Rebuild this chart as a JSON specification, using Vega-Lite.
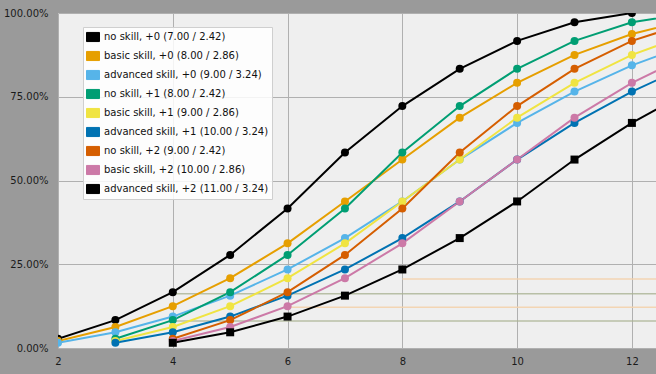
{
  "$schema": "https://vega.github.io/schema/vega-lite/v6.json",
  "width": 598,
  "height": 335,
  "autosize": {"type": "none"},
  "padding": {"left": 58, "top": 13, "right": 0, "bottom": 26},
  "background": "#9a9a9a",
  "config": {
    "view": {"fill": "#efefef", "stroke": null},
    "font": "DejaVu Sans",
    "axis": {
      "grid": true,
      "gridColor": "#b0b0b0",
      "gridWidth": 1,
      "domain": false,
      "ticks": false,
      "labelFlush": false,
      "labelOverlap": false,
      "labelFont": "DejaVu Sans",
      "labelFontSize": 10,
      "labelColor": "#1a1a1a",
      "title": null
    }
  },
  "datasets": {
    "ghostGray": [
      {"x1": 4, "x2": 12.42, "p": 0.162},
      {"x1": 4, "x2": 12.42, "p": 0.0806}
    ],
    "ghostOrange": [
      {"x1": 8, "x2": 12.42, "p": 0.206},
      {"x1": 6, "x2": 12.42, "p": 0.1215}
    ],
    "cdf": [
      {"series": "no skill, +0 (7.00 / 2.42)", "x": 2, "p": 0.0278},
      {"series": "no skill, +0 (7.00 / 2.42)", "x": 3, "p": 0.0833},
      {"series": "no skill, +0 (7.00 / 2.42)", "x": 4, "p": 0.1667},
      {"series": "no skill, +0 (7.00 / 2.42)", "x": 5, "p": 0.2778},
      {"series": "no skill, +0 (7.00 / 2.42)", "x": 6, "p": 0.4167},
      {"series": "no skill, +0 (7.00 / 2.42)", "x": 7, "p": 0.5833},
      {"series": "no skill, +0 (7.00 / 2.42)", "x": 8, "p": 0.7222},
      {"series": "no skill, +0 (7.00 / 2.42)", "x": 9, "p": 0.8333},
      {"series": "no skill, +0 (7.00 / 2.42)", "x": 10, "p": 0.9167},
      {"series": "no skill, +0 (7.00 / 2.42)", "x": 11, "p": 0.9722},
      {"series": "no skill, +0 (7.00 / 2.42)", "x": 12, "p": 1.0},

      {"series": "basic skill, +0 (8.00 / 2.86)", "x": 2, "p": 0.0208},
      {"series": "basic skill, +0 (8.00 / 2.86)", "x": 3, "p": 0.0625},
      {"series": "basic skill, +0 (8.00 / 2.86)", "x": 4, "p": 0.125},
      {"series": "basic skill, +0 (8.00 / 2.86)", "x": 5, "p": 0.2083},
      {"series": "basic skill, +0 (8.00 / 2.86)", "x": 6, "p": 0.3125},
      {"series": "basic skill, +0 (8.00 / 2.86)", "x": 7, "p": 0.4375},
      {"series": "basic skill, +0 (8.00 / 2.86)", "x": 8, "p": 0.5625},
      {"series": "basic skill, +0 (8.00 / 2.86)", "x": 9, "p": 0.6875},
      {"series": "basic skill, +0 (8.00 / 2.86)", "x": 10, "p": 0.7917},
      {"series": "basic skill, +0 (8.00 / 2.86)", "x": 11, "p": 0.875},
      {"series": "basic skill, +0 (8.00 / 2.86)", "x": 12, "p": 0.9375},
      {"series": "basic skill, +0 (8.00 / 2.86)", "x": 13, "p": 0.9792},

      {"series": "advanced skill, +0 (9.00 / 3.24)", "x": 2, "p": 0.0156},
      {"series": "advanced skill, +0 (9.00 / 3.24)", "x": 3, "p": 0.0469},
      {"series": "advanced skill, +0 (9.00 / 3.24)", "x": 4, "p": 0.0938},
      {"series": "advanced skill, +0 (9.00 / 3.24)", "x": 5, "p": 0.1563},
      {"series": "advanced skill, +0 (9.00 / 3.24)", "x": 6, "p": 0.2344},
      {"series": "advanced skill, +0 (9.00 / 3.24)", "x": 7, "p": 0.3281},
      {"series": "advanced skill, +0 (9.00 / 3.24)", "x": 8, "p": 0.4375},
      {"series": "advanced skill, +0 (9.00 / 3.24)", "x": 9, "p": 0.5625},
      {"series": "advanced skill, +0 (9.00 / 3.24)", "x": 10, "p": 0.6719},
      {"series": "advanced skill, +0 (9.00 / 3.24)", "x": 11, "p": 0.7656},
      {"series": "advanced skill, +0 (9.00 / 3.24)", "x": 12, "p": 0.8438},
      {"series": "advanced skill, +0 (9.00 / 3.24)", "x": 13, "p": 0.9063},

      {"series": "no skill, +1 (8.00 / 2.42)", "x": 3, "p": 0.0278},
      {"series": "no skill, +1 (8.00 / 2.42)", "x": 4, "p": 0.0833},
      {"series": "no skill, +1 (8.00 / 2.42)", "x": 5, "p": 0.1667},
      {"series": "no skill, +1 (8.00 / 2.42)", "x": 6, "p": 0.2778},
      {"series": "no skill, +1 (8.00 / 2.42)", "x": 7, "p": 0.4167},
      {"series": "no skill, +1 (8.00 / 2.42)", "x": 8, "p": 0.5833},
      {"series": "no skill, +1 (8.00 / 2.42)", "x": 9, "p": 0.7222},
      {"series": "no skill, +1 (8.00 / 2.42)", "x": 10, "p": 0.8333},
      {"series": "no skill, +1 (8.00 / 2.42)", "x": 11, "p": 0.9167},
      {"series": "no skill, +1 (8.00 / 2.42)", "x": 12, "p": 0.9722},
      {"series": "no skill, +1 (8.00 / 2.42)", "x": 13, "p": 1.0},

      {"series": "basic skill, +1 (9.00 / 2.86)", "x": 3, "p": 0.0208},
      {"series": "basic skill, +1 (9.00 / 2.86)", "x": 4, "p": 0.0625},
      {"series": "basic skill, +1 (9.00 / 2.86)", "x": 5, "p": 0.125},
      {"series": "basic skill, +1 (9.00 / 2.86)", "x": 6, "p": 0.2083},
      {"series": "basic skill, +1 (9.00 / 2.86)", "x": 7, "p": 0.3125},
      {"series": "basic skill, +1 (9.00 / 2.86)", "x": 8, "p": 0.4375},
      {"series": "basic skill, +1 (9.00 / 2.86)", "x": 9, "p": 0.5625},
      {"series": "basic skill, +1 (9.00 / 2.86)", "x": 10, "p": 0.6875},
      {"series": "basic skill, +1 (9.00 / 2.86)", "x": 11, "p": 0.7917},
      {"series": "basic skill, +1 (9.00 / 2.86)", "x": 12, "p": 0.875},
      {"series": "basic skill, +1 (9.00 / 2.86)", "x": 13, "p": 0.9375},

      {"series": "advanced skill, +1 (10.00 / 3.24)", "x": 3, "p": 0.0156},
      {"series": "advanced skill, +1 (10.00 / 3.24)", "x": 4, "p": 0.0469},
      {"series": "advanced skill, +1 (10.00 / 3.24)", "x": 5, "p": 0.0938},
      {"series": "advanced skill, +1 (10.00 / 3.24)", "x": 6, "p": 0.1563},
      {"series": "advanced skill, +1 (10.00 / 3.24)", "x": 7, "p": 0.2344},
      {"series": "advanced skill, +1 (10.00 / 3.24)", "x": 8, "p": 0.3281},
      {"series": "advanced skill, +1 (10.00 / 3.24)", "x": 9, "p": 0.4375},
      {"series": "advanced skill, +1 (10.00 / 3.24)", "x": 10, "p": 0.5625},
      {"series": "advanced skill, +1 (10.00 / 3.24)", "x": 11, "p": 0.6719},
      {"series": "advanced skill, +1 (10.00 / 3.24)", "x": 12, "p": 0.7656},
      {"series": "advanced skill, +1 (10.00 / 3.24)", "x": 13, "p": 0.8438},

      {"series": "no skill, +2 (9.00 / 2.42)", "x": 4, "p": 0.0278},
      {"series": "no skill, +2 (9.00 / 2.42)", "x": 5, "p": 0.0833},
      {"series": "no skill, +2 (9.00 / 2.42)", "x": 6, "p": 0.1667},
      {"series": "no skill, +2 (9.00 / 2.42)", "x": 7, "p": 0.2778},
      {"series": "no skill, +2 (9.00 / 2.42)", "x": 8, "p": 0.4167},
      {"series": "no skill, +2 (9.00 / 2.42)", "x": 9, "p": 0.5833},
      {"series": "no skill, +2 (9.00 / 2.42)", "x": 10, "p": 0.7222},
      {"series": "no skill, +2 (9.00 / 2.42)", "x": 11, "p": 0.8333},
      {"series": "no skill, +2 (9.00 / 2.42)", "x": 12, "p": 0.9167},
      {"series": "no skill, +2 (9.00 / 2.42)", "x": 13, "p": 0.9722},

      {"series": "basic skill, +2 (10.00 / 2.86)", "x": 4, "p": 0.0208},
      {"series": "basic skill, +2 (10.00 / 2.86)", "x": 5, "p": 0.0625},
      {"series": "basic skill, +2 (10.00 / 2.86)", "x": 6, "p": 0.125},
      {"series": "basic skill, +2 (10.00 / 2.86)", "x": 7, "p": 0.2083},
      {"series": "basic skill, +2 (10.00 / 2.86)", "x": 8, "p": 0.3125},
      {"series": "basic skill, +2 (10.00 / 2.86)", "x": 9, "p": 0.4375},
      {"series": "basic skill, +2 (10.00 / 2.86)", "x": 10, "p": 0.5625},
      {"series": "basic skill, +2 (10.00 / 2.86)", "x": 11, "p": 0.6875},
      {"series": "basic skill, +2 (10.00 / 2.86)", "x": 12, "p": 0.7917},
      {"series": "basic skill, +2 (10.00 / 2.86)", "x": 13, "p": 0.875},

      {"series": "advanced skill, +2 (11.00 / 3.24)", "x": 4, "p": 0.0156},
      {"series": "advanced skill, +2 (11.00 / 3.24)", "x": 5, "p": 0.0469},
      {"series": "advanced skill, +2 (11.00 / 3.24)", "x": 6, "p": 0.0938},
      {"series": "advanced skill, +2 (11.00 / 3.24)", "x": 7, "p": 0.1563},
      {"series": "advanced skill, +2 (11.00 / 3.24)", "x": 8, "p": 0.2344},
      {"series": "advanced skill, +2 (11.00 / 3.24)", "x": 9, "p": 0.3281},
      {"series": "advanced skill, +2 (11.00 / 3.24)", "x": 10, "p": 0.4375},
      {"series": "advanced skill, +2 (11.00 / 3.24)", "x": 11, "p": 0.5625},
      {"series": "advanced skill, +2 (11.00 / 3.24)", "x": 12, "p": 0.6719},
      {"series": "advanced skill, +2 (11.00 / 3.24)", "x": 13, "p": 0.7656}
    ]
  },
  "layer": [
    {
      "data": {"name": "ghostGray"},
      "mark": {"type": "rule", "color": "#aab394", "strokeWidth": 1.5, "opacity": 0.8, "clip": true},
      "encoding": {
        "x": {"field": "x1", "type": "quantitative", "scale": {"domain": [2, 12.42], "nice": false, "zero": false}, "axis": {"values": [2, 4, 6, 8, 10, 12], "format": "d", "labelPadding": 8}},
        "x2": {"field": "x2"},
        "y": {"field": "p", "type": "quantitative", "scale": {"domain": [0, 1], "nice": false}, "axis": {"values": [0, 0.25, 0.5, 0.75, 1], "format": ".2%", "labelPadding": 10}}
      }
    },
    {
      "data": {"name": "ghostOrange"},
      "mark": {"type": "rule", "color": "#f3d2ac", "strokeWidth": 1.5, "opacity": 0.9, "clip": true},
      "encoding": {
        "x": {"field": "x1", "type": "quantitative"},
        "x2": {"field": "x2"},
        "y": {"field": "p", "type": "quantitative"}
      }
    },
    {
      "data": {"name": "cdf"},
      "mark": {"type": "line", "strokeWidth": 2, "clip": true},
      "encoding": {
        "x": {"field": "x", "type": "quantitative"},
        "y": {"field": "p", "type": "quantitative"},
        "detail": {"field": "series"},
        "color": {
          "field": "series",
          "type": "nominal",
          "scale": {
            "domain": [
              "no skill, +0 (7.00 / 2.42)",
              "basic skill, +0 (8.00 / 2.86)",
              "advanced skill, +0 (9.00 / 3.24)",
              "no skill, +1 (8.00 / 2.42)",
              "basic skill, +1 (9.00 / 2.86)",
              "advanced skill, +1 (10.00 / 3.24)",
              "no skill, +2 (9.00 / 2.42)",
              "basic skill, +2 (10.00 / 2.86)",
              "advanced skill, +2 (11.00 / 3.24)"
            ],
            "range": ["#000000", "#E69F00", "#56B4E9", "#009E73", "#F0E442", "#0072B2", "#D55E00", "#CC79A7", "#000000"]
          },
          "legend": {
            "orient": "none",
            "legendX": 25,
            "legendY": 14,
            "title": null,
            "fillColor": "rgba(255,255,255,0.85)",
            "strokeColor": "#cfcfcf",
            "padding": 3,
            "rowPadding": 5,
            "labelFont": "DejaVu Sans",
            "labelFontSize": 10,
            "labelColor": "#111111",
            "labelOffset": 4,
            "labelLimit": 400,
            "symbolType": "M-1,-0.7L1,-0.7L1,0.7L-1,0.7Z",
            "symbolSize": 169,
            "symbolStrokeColor": "#c4c4c4",
            "symbolStrokeWidth": 1,
            "encode": {
              "symbols": {
                "update": {
                  "fill": {"scale": "color", "field": "value"},
                  "stroke": {"value": "#c4c4c4"},
                  "strokeWidth": {"value": 1},
                  "opacity": {"value": 1}
                }
              }
            }
          }
        }
      }
    },
    {
      "data": {"name": "cdf"},
      "transform": [{"filter": "datum.series != 'advanced skill, +2 (11.00 / 3.24)'"}],
      "mark": {"type": "point", "shape": "circle", "filled": true, "size": 64, "opacity": 1, "clip": true},
      "encoding": {
        "x": {"field": "x", "type": "quantitative"},
        "y": {"field": "p", "type": "quantitative"},
        "color": {"field": "series", "type": "nominal"}
      }
    },
    {
      "data": {"name": "cdf"},
      "transform": [{"filter": "datum.series == 'advanced skill, +2 (11.00 / 3.24)'"}],
      "mark": {"type": "point", "shape": "square", "filled": true, "size": 64, "opacity": 1, "clip": true},
      "encoding": {
        "x": {"field": "x", "type": "quantitative"},
        "y": {"field": "p", "type": "quantitative"},
        "color": {"field": "series", "type": "nominal"}
      }
    }
  ]
}
